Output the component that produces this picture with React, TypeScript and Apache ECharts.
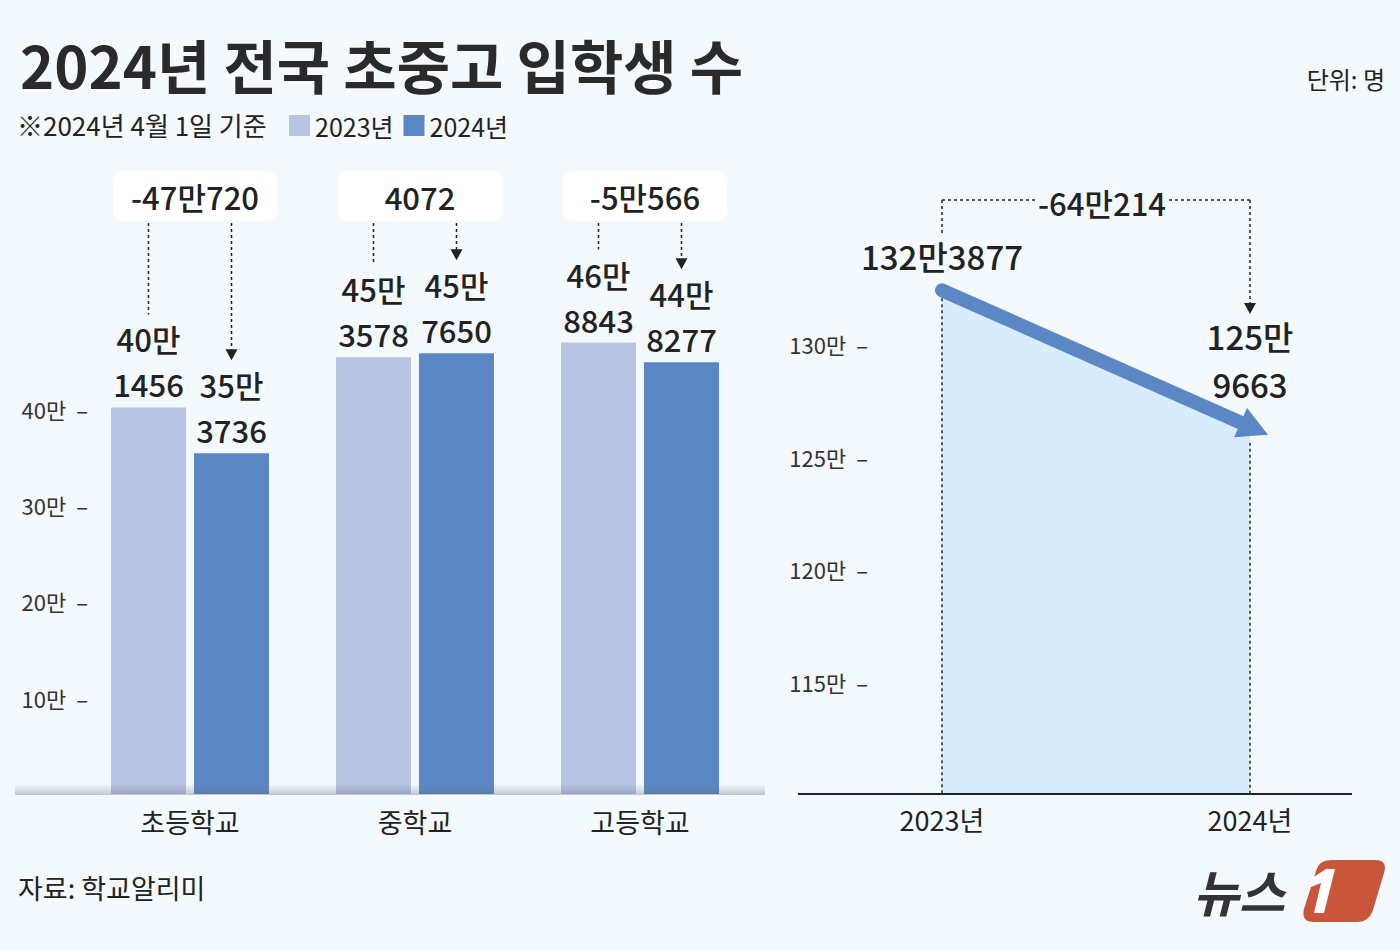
import React, { useEffect, useRef } from "react";
import * as echarts from "echarts";

// ---- data ----
const schoolTypes = ["초등학교", "중학교", "고등학교"];
const seriesNames = ["2023년", "2024년"];
const entrants2023 = [401456, 453578, 468843];
const entrants2024 = [353736, 457650, 448277];
const diffLabels = ["-47만720", "4072", "-5만566"];
const years = ["2023년", "2024년"];
const totals = [1323877, 1259663];
const totalDiffLabel = "-64만214";
const titleText = "2024년 전국 초중고 입학생 수";
const subtitleText = "※2024년 4월 1일 기준";
const unitText = "단위: 명";
const sourceText = "자료: 학교알리미";

// ---- style ----
const BG = "#f4f9fd";
const C23 = "#b7c4e3";
const C24 = "#5b87c5";
const AREA = "#d8edfb";
const INK = "#222222";
const KR_FONT = "'Noto Sans CJK KR', sans-serif";
const NUM_FONT = "'Noto Sans CJK KR', sans-serif";
const BAR_W = 75;
const BAR_GAP_PX = 8;
const LBL_SIZE = 31;
const LBL_LH = 45;

const manLabel = (v: number, multiline: boolean) => {
  const man = Math.floor(v / 10000);
  const rest = v % 10000;
  return multiline ? `${man}만\n${rest}` : `${man}만${rest}`;
};

const axisFormatter = (min: number, max: number) => (v: number) =>
  v <= min || v >= max ? "" : `{a|${v / 10000}만}{b|–}`;

const axisRich = {
  a: { fontSize: 22, color: "#333", fontFamily: KR_FONT },
  b: { fontSize: 22, color: "#333", fontFamily: KR_FONT, padding: [0, 0, 0, 10] },
};

echarts.graphic.registerShape(
  "logoBox",
  echarts.graphic.extendPath(
    "M 28 0 L 72 0 Q 85 0 81 13 L 70 50 Q 66 62 54 62 L 11 62 Q -2 62 1 49 L 13 11 Q 16 0 28 0 Z",
    {}
  )
);
echarts.graphic.registerShape(
  "logoOne",
  echarts.graphic.extendPath("M 9 18 L 23 9 L 32 9 L 21 53 L 11 53 L 18 23 L 8 27 Z", {})
);

export default function App() {
  const ref = useRef<HTMLDivElement>(null);
  useEffect(() => {
    if (!ref.current) return;
    const chart = echarts.init(ref.current, null, { renderer: "svg" });
    const leftMin = 0, leftMax = 500000;
    const rightMin = 1100000, rightMax = 1350000;
    const barGapPct = `${(BAR_GAP_PX / BAR_W) * 100}%`;
    const barLabel = {
      show: true,
      position: "top",
      distance: 1,
      fontSize: LBL_SIZE,
      fontWeight: 500,
      lineHeight: LBL_LH,
      fontFamily: NUM_FONT,
      color: INK,
      formatter: (p: any) => manLabel(p.value, true),
    };
    chart.setOption({
      animation: false,
      backgroundColor: BG,
      textStyle: { fontFamily: KR_FONT },
      legend: {
        left: 289,
        top: 113,
        padding: 0,
        itemWidth: 21,
        itemHeight: 21,
        itemGap: 10,
        icon: "rect",
        data: seriesNames,
        textStyle: { fontSize: 25, color: INK, fontFamily: KR_FONT },
      },
      grid: [
        { left: 77.5, width: 675, top: 312.5, height: 481.5 },
        { left: 942, width: 308, top: 231.5, height: 562.5 },
      ],
      xAxis: [
        {
          gridIndex: 0,
          type: "category",
          data: schoolTypes,
          axisLine: { show: false },
          axisTick: { show: false },
          axisLabel: { margin: 14, fontSize: 27, color: INK, fontFamily: KR_FONT },
        },
        {
          gridIndex: 1,
          type: "category",
          data: years,
          boundaryGap: false,
          axisLine: { show: false },
          axisTick: { show: false },
          axisLabel: { margin: 12, fontSize: 27, color: INK, fontFamily: KR_FONT },
        },
      ],
      yAxis: [
        {
          gridIndex: 0,
          type: "value",
          min: leftMin,
          max: leftMax,
          interval: 100000,
          splitLine: { show: false },
          axisLine: { show: false },
          axisTick: { show: false },
          axisLabel: { margin: -10.5, formatter: axisFormatter(leftMin, leftMax), rich: axisRich },
        },
        {
          gridIndex: 1,
          type: "value",
          min: rightMin,
          max: rightMax,
          interval: 50000,
          splitLine: { show: false },
          axisLine: { show: false },
          axisTick: { show: false },
          axisLabel: { margin: 74, formatter: axisFormatter(rightMin, rightMax), rich: axisRich },
        },
      ],
      series: [
        {
          type: "bar",
          name: seriesNames[0],
          data: entrants2023,
          barWidth: BAR_W,
          barGap: barGapPct,
          itemStyle: { color: C23 },
          label: barLabel,
        },
        {
          type: "bar",
          name: seriesNames[1],
          data: entrants2024,
          barWidth: BAR_W,
          barGap: barGapPct,
          itemStyle: { color: C24 },
          label: barLabel,
        },
        {
          type: "line",
          xAxisIndex: 1,
          yAxisIndex: 1,
          data: totals.map((v, i) => ({ value: v, label: { distance: i === 0 ? 9 : 26 } })),
          symbol: "circle",
          symbolSize: 2,
          itemStyle: { color: "rgba(0,0,0,0)" },
          lineStyle: { opacity: 0 },
          areaStyle: { color: AREA, opacity: 1 },
          label: {
            show: true,
            position: "top",
            fontSize: 33,
            fontWeight: 500,
            lineHeight: 48,
            fontFamily: NUM_FONT,
            color: INK,
            formatter: (p: any) => manLabel(p.value, p.dataIndex !== 0),
          },
        },
      ],
    });

    // ---- annotations computed from the chart's scales ----
    const Z = 100;
    const g: any[] = [];
    const txt = (t: string, x: number, y: number, o: any = {}) => ({
      type: "text",
      x,
      y,
      z: Z,
      style: {
        text: t,
        fill: INK,
        fontFamily: KR_FONT,
        fontSize: 25,
        align: "left",
        verticalAlign: "middle",
        ...o,
      },
    });
    const dot = (x1: number, y1: number, x2: number, y2: number) => ({
      type: "line",
      z: Z,
      shape: { x1, y1, x2, y2 },
      style: { stroke: INK, lineWidth: 1.5, lineDash: [3, 3] },
    });
    const downArrow = (x: number, tip: number) => ({
      type: "polygon",
      z: Z,
      shape: { points: [[x - 6, tip - 11], [x + 6, tip - 11], [x, tip]] },
      style: { fill: INK },
    });

    g.push(txt(titleText, 20, 64, { fontSize: 58, fontWeight: "bold", fill: "#2a2a2a" }));
    g.push(txt(subtitleText, 17, 124, { fontSize: 26 }));
    g.push(txt(unitText, 1385, 78, { fontSize: 24, align: "right" }));
    g.push(txt(sourceText, 18, 887, { fontSize: 27 }));

    // left chart
    const base0 = chart.convertToPixel({ gridIndex: 0 }, [0, leftMin]) as number[];
    const off = (BAR_W + BAR_GAP_PX) / 2;
    const blockH = 2 * LBL_LH + 1;
    g.push({
      type: "rect",
      z: Z,
      shape: { x: 15, y: base0[1] - 9, width: 750, height: 10 },
      style: {
        fill: new echarts.graphic.LinearGradient(0, 0, 0, 1, [
          { offset: 0, color: "rgba(120,130,145,0.06)" },
          { offset: 1, color: "rgba(80,90,110,0.33)" },
        ]),
      },
    });
    schoolTypes.forEach((_, i) => {
      const p23 = chart.convertToPixel({ gridIndex: 0 }, [i, entrants2023[i]]) as number[];
      const p24 = chart.convertToPixel({ gridIndex: 0 }, [i, entrants2024[i]]) as number[];
      const cx = p23[0];
      const xl = cx - off;
      const xr = cx + off;
      g.push({
        type: "rect",
        z: Z,
        shape: { x: cx + 5 - 82, y: 171, width: 164, height: 50, r: 10 },
        style: { fill: "#ffffff" },
      });
      g.push(txt(diffLabels[i], cx + 5, 196, { fontSize: 31, fontWeight: 500, fontFamily: NUM_FONT, align: "center" }));
      g.push(dot(xl, 223, xl, p23[1] - blockH - 2));
      g.push(dot(xr, 223, xr, p24[1] - blockH - 12));
      g.push(downArrow(xr, p24[1] - blockH - 2));
    });

    // right chart
    const p1 = chart.convertToPixel({ gridIndex: 1 }, [0, totals[0]]) as number[];
    const p2 = chart.convertToPixel({ gridIndex: 1 }, [1, totals[1]]) as number[];
    const base1 = chart.convertToPixel({ gridIndex: 1 }, [0, rightMin]) as number[];
    g.push({
      type: "line",
      z: Z,
      shape: { x1: 798, y1: base1[1], x2: 1352, y2: base1[1] },
      style: { stroke: INK, lineWidth: 2 },
    });
    const topY = 200;
    const midX = (p1[0] + p2[0]) / 2 + 6;
    g.push(dot(p1[0], topY, midX - 67, topY));
    g.push(dot(midX + 67, topY, p2[0], topY));
    g.push(txt(totalDiffLabel, midX, topY + 2, { fontSize: 31, fontWeight: 500, fontFamily: NUM_FONT, align: "center" }));
    g.push(dot(p1[0], topY, p1[0], 236));
    g.push(dot(p1[0], p1[1] + 8, p1[0], base1[1]));
    g.push(dot(p2[0], topY, p2[0], 303));
    g.push(downArrow(p2[0], 314));
    g.push(dot(p2[0], p2[1] + 8, p2[0], base1[1]));

    // trend arrow
    const tip = [p2[0] + 18, p2[1]];
    const dx = tip[0] - p1[0];
    const dy = tip[1] - p1[1];
    const len = Math.sqrt(dx * dx + dy * dy);
    const ux = dx / len, uy = dy / len;
    const headLen = 30, headHalf = 16;
    const bx = tip[0] - ux * headLen, by = tip[1] - uy * headLen;
    g.push({
      type: "line",
      z: Z,
      shape: { x1: p1[0], y1: p1[1], x2: bx + ux * 2, y2: by + uy * 2 },
      style: { stroke: C24, lineWidth: 14, lineCap: "round" },
    });
    g.push({
      type: "polygon",
      z: Z,
      shape: {
        points: [
          [tip[0], tip[1]],
          [bx - uy * headHalf, by + ux * headHalf],
          [bx + uy * headHalf, by - ux * headHalf],
        ],
      },
      style: { fill: C24 },
    });

    // logo
    g.push(txt("뉴스", 1193, 890, { fontSize: 50, fontWeight: "bold", fontStyle: "italic", fill: "#333" }));
    g.push({ type: "logoBox", x: 1303, y: 860, z: Z, style: { fill: "#c9553a" } });
    g.push({ type: "logoOne", x: 1303, y: 860, z: Z + 1, style: { fill: "#ffffff" } });

    chart.setOption({ graphic: g });

    return () => chart.dispose();
  }, []);
  return (
    <div
      ref={ref}
      style={{ position: "absolute", left: 0, top: 0, width: 1400, height: 950 }}
    />
  );
}
